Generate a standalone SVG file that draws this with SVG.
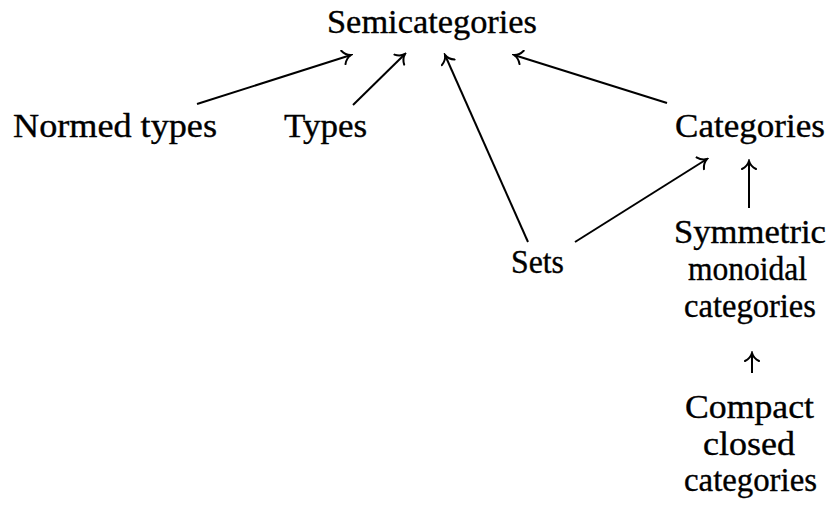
<svg xmlns="http://www.w3.org/2000/svg" width="829" height="505" viewBox="0 0 829 505">
  <style>
    .lbl { font-family: "Liberation Serif", "DejaVu Serif", serif; font-size: 33px; fill: #000; stroke: #000; stroke-width: 0.35px; }
    .edge { stroke: #000; stroke-width: 2; fill: none; marker-end: url(#to); }
  </style>
  <defs>
    <!-- curved "to"-style arrow tip -->
    <marker id="to" viewBox="-10 -8 12 16" markerWidth="12" markerHeight="16" refX="0" refY="0" orient="auto" markerUnits="userSpaceOnUse">
      <path d="M -8 -7 C -6 -3 -2.5 -0.7 0 0 C -2.5 0.7 -6 3 -8 7" stroke="#000" stroke-width="2" fill="none" stroke-linecap="round"/>
    </marker>
  </defs>
  <rect width="829" height="505" fill="#fff"/>

  <g id="connectors">
    <line class="edge" x1="197" y1="104" x2="351" y2="55"/>
    <line class="edge" x1="353" y1="105" x2="405" y2="54"/>
    <line class="edge" x1="528" y1="242" x2="445" y2="55"/>
    <line class="edge" x1="667" y1="103" x2="514" y2="55"/>
    <line class="edge" x1="575" y1="242" x2="707" y2="159"/>
    <line class="edge" x1="749" y1="208" x2="749" y2="161"/>
    <line class="edge" x1="752" y1="373" x2="752" y2="353"/>
  </g>

  <g id="semicategories">
    <text class="lbl" x="327" y="33" textLength="210" lengthAdjust="spacingAndGlyphs">Semicategories</text>
  </g>
  <g id="normed-types">
    <text class="lbl" x="13" y="137" textLength="204" lengthAdjust="spacingAndGlyphs">Normed types</text>
  </g>
  <g id="types">
    <text class="lbl" x="284" y="137" textLength="83" lengthAdjust="spacingAndGlyphs">Types</text>
  </g>
  <g id="categories">
    <text class="lbl" x="675" y="137" textLength="150" lengthAdjust="spacingAndGlyphs">Categories</text>
  </g>
  <g id="sets">
    <text class="lbl" x="511" y="273" textLength="53" lengthAdjust="spacingAndGlyphs">Sets</text>
  </g>
  <g id="symmetric-monoidal">
    <text class="lbl" x="674" y="243" textLength="152" lengthAdjust="spacingAndGlyphs">Symmetric</text>
    <text class="lbl" x="688" y="280" textLength="119" lengthAdjust="spacingAndGlyphs">monoidal</text>
    <text class="lbl" x="684" y="317" textLength="132" lengthAdjust="spacingAndGlyphs">categories</text>
  </g>
  <g id="compact-closed">
    <text class="lbl" x="685" y="418" textLength="129" lengthAdjust="spacingAndGlyphs">Compact</text>
    <text class="lbl" x="703" y="455" textLength="92" lengthAdjust="spacingAndGlyphs">closed</text>
    <text class="lbl" x="684" y="491" textLength="133" lengthAdjust="spacingAndGlyphs">categories</text>
  </g>
</svg>
